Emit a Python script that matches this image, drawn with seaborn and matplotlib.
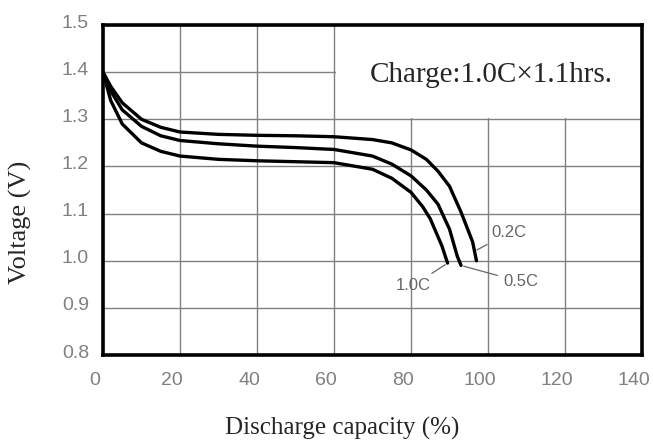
import matplotlib
matplotlib.use("Agg")
import matplotlib.pyplot as plt
import matplotlib.transforms as mtransforms
from matplotlib.patches import Rectangle
import seaborn as sns
import pandas as pd

# discharge curves (capacity %, voltage V)
cap_02c = [0, 2, 5, 10, 15, 20, 30, 40, 50, 60, 70, 75, 80, 84, 87, 90, 93, 96, 97]
volt_02c = [1.40, 1.37, 1.335, 1.30, 1.283, 1.273, 1.268, 1.266, 1.265, 1.263,
            1.257, 1.25, 1.235, 1.215, 1.19, 1.158, 1.103, 1.04, 1.0]

cap_05c = [0, 2, 5, 10, 15, 20, 30, 40, 50, 60, 70, 75, 80, 84, 87, 90, 92, 93]
volt_05c = [1.40, 1.36, 1.32, 1.285, 1.265, 1.255, 1.248, 1.243, 1.24, 1.236,
            1.222, 1.205, 1.18, 1.15, 1.12, 1.067, 1.01, 0.99]

cap_10c = [0, 2, 5, 10, 15, 20, 30, 40, 50, 60, 70, 75, 80, 83, 85, 88, 89.5]
volt_10c = [1.40, 1.34, 1.29, 1.25, 1.232, 1.222, 1.215, 1.212, 1.21, 1.208,
            1.194, 1.175, 1.145, 1.115, 1.089, 1.032, 0.995]

rates = ["0.2C", "0.5C", "1.0C"]
x_ticks = [0, 20, 40, 60, 80, 100, 120, 140]
y_ticks = [0.8, 0.9, 1.0, 1.1, 1.2, 1.3, 1.4, 1.5]

df = pd.concat([
    pd.DataFrame({"capacity": cap_02c, "voltage": volt_02c, "rate": "0.2C"}),
    pd.DataFrame({"capacity": cap_05c, "voltage": volt_05c, "rate": "0.5C"}),
    pd.DataFrame({"capacity": cap_10c, "voltage": volt_10c, "rate": "1.0C"}),
])

sns.set_style("white")
plt.rcParams["font.family"] = ["Liberation Sans", "DejaVu Sans"]
serif = ["Liberation Serif", "DejaVu Serif"]
gray = "#808080"

fig = plt.figure(figsize=(6.53, 4.43), dpi=100)
ax = fig.add_axes([103 / 653, 1 - 355 / 443, 539 / 653, 330 / 443])

sns.lineplot(data=df, x="capacity", y="voltage", hue="rate",
             palette={r: "black" for r in rates}, sort=False, estimator=None,
             legend=False, linewidth=2.4, ax=ax, zorder=3)

ax.set_xlim(0, 140)
ax.set_ylim(0.8, 1.5)
ax.set_xticks(x_ticks)
ax.set_yticks(y_ticks)
ax.set_xticklabels([str(t) for t in x_ticks])
ax.set_yticklabels([f"{t:.1f}" for t in y_ticks])
ax.tick_params(length=0, labelsize=14, colors=gray)
ax.tick_params(axis="x", pad=12)
ax.tick_params(axis="y", pad=10)
ax.set_xlabel("")
ax.set_ylabel("")
ax.grid(True, color=gray, linewidth=1)

# tick labels sit a little left / above their grid lines in the original
shift_x = mtransforms.ScaledTranslation(-8 / 100, 0, fig.dpi_scale_trans)
for lbl in ax.get_xticklabels():
    lbl.set_transform(lbl.get_transform() + shift_x)
shift_y = mtransforms.ScaledTranslation(0, 4 / 100, fig.dpi_scale_trans)
for lbl in ax.get_yticklabels():
    lbl.set_transform(lbl.get_transform() + shift_y)

# blank box behind the charge note (keeps the 60 % line and the 1.3 V line)
ax.add_patch(Rectangle((60.4, 1.302), 80, 0.2, facecolor="white", edgecolor="none", zorder=2))

for sp in ax.spines.values():
    sp.set_visible(True)
    sp.set_color("black")
    sp.set_linewidth(2.6)

ax.text(100.8, 1.393, "Charge:1.0C×1.1hrs.", family=serif, fontsize=21,
        ha="center", va="center", zorder=4)

lab = dict(color="#666666", fontsize=12, va="center", zorder=4)
arrow = dict(arrowstyle="-", color="#666666", lw=0.9)
ax.annotate("0.2C", xy=(96.5, 1.02), xytext=(101, 1.06), arrowprops=arrow, **lab)
ax.annotate("0.5C", xy=(93, 0.99), xytext=(104, 0.955), arrowprops=arrow, **lab)
ax.annotate("1.0C", xy=(89.5, 0.995), xytext=(76, 0.947), arrowprops=arrow, **lab)

fig.text(342 / 653, 1 - 428 / 443, "Discharge capacity (%)", family=serif,
         fontsize=18, ha="center", va="center")
fig.text(20 / 653, 1 - 222 / 443, "Voltage (V)", family=serif, fontsize=19,
         rotation=90, ha="center", va="center")

fig.savefig("out.png", dpi=100)
